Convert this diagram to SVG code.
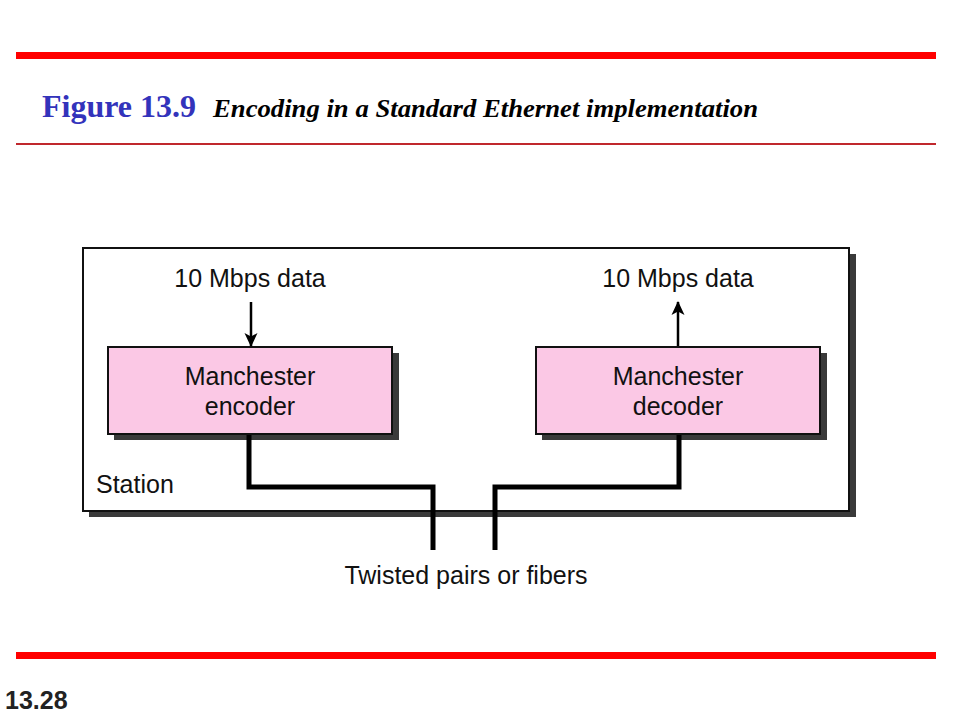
<svg xmlns="http://www.w3.org/2000/svg" width="960" height="720" viewBox="0 0 960 720">
<style>
.lbl{font-family:"Liberation Sans",Arial,sans-serif;font-size:25px;fill:#111;}
.box{fill:#fbc8e5;stroke:#111;stroke-width:2;}
.shadow{fill:#3a3a3a;}
.wire{fill:none;stroke:#000;stroke-width:5;stroke-linejoin:miter;}
.arr{stroke:#000;stroke-width:2.5;fill:none;}
</style>
<defs>
<marker id="ah" viewBox="0 0 14 14" refX="13" refY="7" markerWidth="14" markerHeight="14" markerUnits="userSpaceOnUse" orient="auto">
<path d="M0,0.5 L14,7 L0,13.5 L3.5,7 Z" fill="#000"/>
</marker>
</defs>
<rect width="960" height="720" fill="#fff"/>
<g id="header">
<rect x="16" y="52" width="920" height="7" fill="#ff0000"/>
<text x="42" y="117" font-family="'Liberation Serif','Times New Roman',serif" font-weight="bold" font-size="32" fill="#3333bb">Figure 13.9</text>
<text x="213" y="117" font-family="'Liberation Serif','Times New Roman',serif" font-weight="bold" font-style="italic" font-size="25" fill="#000" textLength="545" lengthAdjust="spacingAndGlyphs">Encoding in a Standard Ethernet implementation</text>
<rect x="16" y="143" width="920" height="2" fill="#c0282d"/>
</g>
<g id="station">
<rect x="89" y="254" width="767" height="263" class="shadow"/>
<rect x="83" y="248" width="766" height="263" fill="#fff" stroke="#111" stroke-width="2"/>
<text x="96" y="493" class="lbl">Station</text>
</g>
<g id="encoder">
<rect x="114" y="353" width="285" height="87" class="shadow"/>
<rect x="108" y="347" width="284" height="87" class="box"/>
<text x="250" y="385" class="lbl" text-anchor="middle">Manchester</text>
<text x="250" y="415" class="lbl" text-anchor="middle">encoder</text>
</g>
<g id="decoder">
<rect x="542" y="353" width="285" height="87" class="shadow"/>
<rect x="536" y="347" width="284" height="87" class="box"/>
<text x="678" y="385" class="lbl" text-anchor="middle">Manchester</text>
<text x="678" y="415" class="lbl" text-anchor="middle">decoder</text>
</g>
<g id="labels">
<text x="250" y="287" class="lbl" text-anchor="middle">10 Mbps data</text>
<text x="678" y="287" class="lbl" text-anchor="middle">10 Mbps data</text>
<text x="466" y="584" class="lbl" text-anchor="middle">Twisted pairs or fibers</text>
</g>
<g id="connectors">
<line x1="251" y1="302" x2="251" y2="346" class="arr" marker-end="url(#ah)"/>
<line x1="678" y1="346" x2="678" y2="302" class="arr" marker-end="url(#ah)"/>
<polyline points="249,435 249,487 433,487 433,550" class="wire"/>
<polyline points="679,435 679,487 495,487 495,550" class="wire"/>
</g>
<g id="footer">
<rect x="16" y="652" width="920" height="7" fill="#ff0000"/>
<text x="5" y="709" font-family="'Liberation Sans',Arial,sans-serif" font-weight="bold" font-size="25" fill="#222">13.28</text>
</g>
</svg>
